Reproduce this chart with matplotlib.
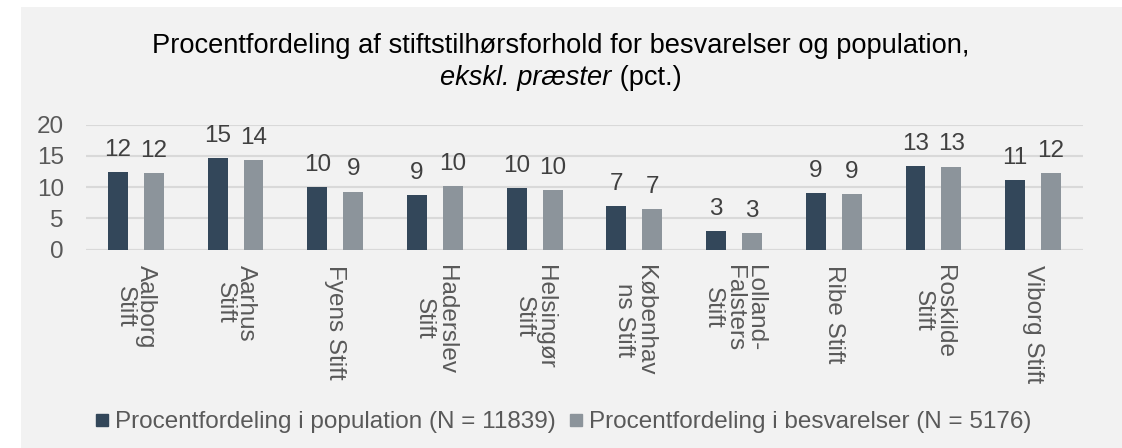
import matplotlib.pyplot as plt
from matplotlib.lines import Line2D
import numpy as np

plt.rcParams['font.family'] = ['Liberation Sans', 'DejaVu Sans']

# ---------------- data ----------------
stifter = ["Aalborg\nStift", "Aarhus\nStift", "Fyens Stift", "Haderslev\nStift", "Helsingør\nStift",
           "Københav\nns Stift", "Lolland-\nFalsters\nStift", "Ribe Stift", "Roskilde\nStift", "Viborg Stift"]
population = [12.4, 14.6, 10.0, 8.7, 9.9, 7.0, 2.9, 9.0, 13.4, 11.2]
besvarelser = [12.2, 14.3, 9.3, 10.2, 9.5, 6.55, 2.7, 8.9, 13.3, 12.3]
navn_pop = "Procentfordeling i population (N = 11839)"
navn_besv = "Procentfordeling i besvarelser (N = 5176)"

# ---------------- style ----------------
c_pop = "#33475a"
c_besv = "#8c949b"
bg = "#f2f2f2"
grid_c = "#d9d9d9"
txt_c = "#595959"
fs = 17.5
W, H = 1122, 448

fig = plt.figure(figsize=(W / 100, H / 100), dpi=100)
fig.patch.set_facecolor("white")
# grey panel
fig.patches.append(plt.Rectangle((21 / W, 0), 1 - 21 / W, 1 - 7 / H, transform=fig.transFigure,
                                 facecolor=bg, edgecolor="none", zorder=-10))

ax = fig.add_axes([86 / W, 1 - 249.5 / H, (1083 - 86) / W, (249.5 - 124.8) / H])
ax.set_facecolor(bg)

x = np.arange(len(stifter))
b1 = ax.bar(x - 0.18, population, width=0.2, color=c_pop, zorder=3)
b2 = ax.bar(x + 0.18, besvarelser, width=0.2, color=c_besv, zorder=3)
for bars in (b1, b2):
    ax.bar_label(bars, labels=[f"{v:.0f}" for v in bars.datavalues], padding=8,
                 fontsize=fs, color="#404040")

ax.set_xlim(-0.5, len(stifter) - 0.5)
ax.set_ylim(0, 20)
ax.set_yticks([0, 5, 10, 15, 20])
ax.yaxis.grid(True, color=grid_c, linewidth=1.5, zorder=0)
for s in ax.spines.values():
    s.set_visible(False)
ax.axhline(0, color=grid_c, linewidth=1.5, zorder=2)
ax.tick_params(axis="both", length=0, labelsize=fs, labelcolor=txt_c)
ax.tick_params(axis="y", pad=16)
ax.set_xticks(x)
ax.set_xticklabels(stifter, rotation=270, ha="center", va="top", multialignment="center")
ax.tick_params(axis="x", pad=11)
for lab in ax.get_xticklabels():
    lab.set_linespacing(0.95)

# title
fig.text(0.5, 1 - 53 / H, "Procentfordeling af stiftstilhørsforhold for besvarelser og population,",
         ha="center", va="baseline", fontsize=19.6, color="black")
t_it = fig.text(0, 1 - 85 / H, "ekskl. præster", style="italic", ha="left", va="baseline",
                fontsize=19.6, color="black")
t_rg = fig.text(0, 1 - 85 / H, " (pct.)", ha="left", va="baseline", fontsize=19.6, color="black")
fig.canvas.draw()
r = fig.canvas.get_renderer()
w1 = t_it.get_window_extent(r).width
w2 = t_rg.get_window_extent(r).width
x0 = (W - w1 - w2) / 2
t_it.set_x(x0 / W)
t_rg.set_x((x0 + w1) / W)

# legend
handles = [Line2D([], [], marker="s", linestyle="none", markersize=8.5, color=c_pop),
           Line2D([], [], marker="s", linestyle="none", markersize=8.5, color=c_besv)]
fig.legend(handles, [navn_pop, navn_besv], loc="center", bbox_to_anchor=(563 / W, 1 - 422 / H),
           ncol=2, frameon=False, fontsize=fs, labelcolor=txt_c, handlelength=0.6,
           handletextpad=0.25, columnspacing=0.5)

fig.savefig("out.png", dpi=100, facecolor=fig.get_facecolor())
